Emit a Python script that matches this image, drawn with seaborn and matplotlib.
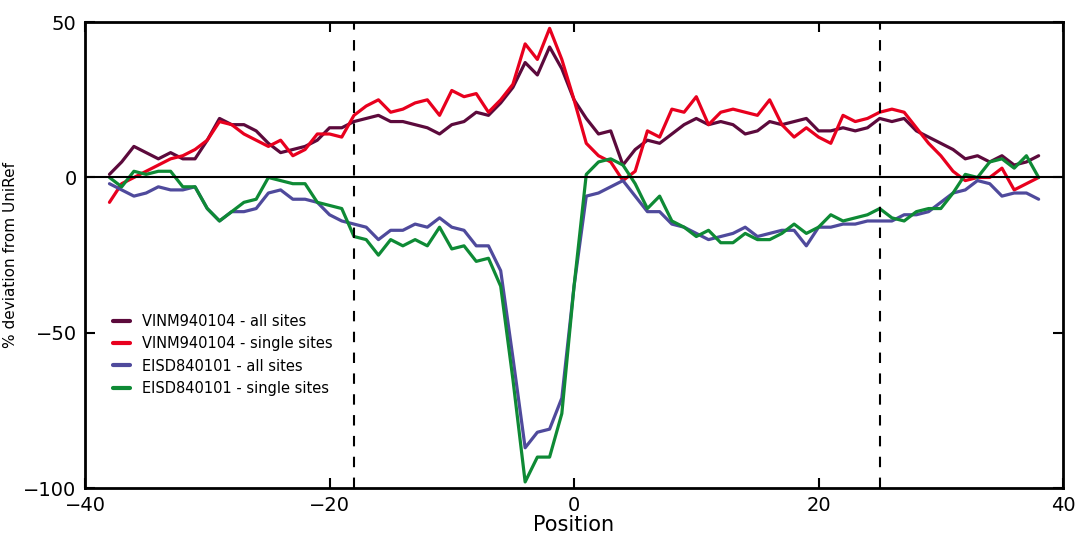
import numpy as np
import pandas as pd
import matplotlib
matplotlib.use("Agg")
import matplotlib.pyplot as plt
import seaborn as sns

positions = list(range(-38, 39))

vinm_all = [1, 5, 10, 8, 6, 8, 6, 6, 12, 19, 17, 17, 15, 11, 8, 9, 10, 12, 16, 16,
            18, 19, 20, 18, 18, 17, 16, 14, 17, 18, 21, 20, 24, 29, 37, 33, 42, 35,
            25, 19, 14, 15, 4, 9, 12, 11, 14, 17, 19, 17, 18, 17, 14, 15, 18, 17,
            18, 19, 15, 15, 16, 15, 16, 19, 18, 19, 15, 13, 11, 9, 6, 7, 5, 7, 4, 5, 7]
vinm_single = [-8, -2, 0, 2, 4, 6, 7, 9, 12, 18, 17, 14, 12, 10, 12, 7, 9, 14, 14, 13,
               20, 23, 25, 21, 22, 24, 25, 20, 28, 26, 27, 21, 25, 30, 43, 38, 48, 38,
               25, 11, 7, 5, -1, 2, 15, 13, 22, 21, 26, 17, 21, 22, 21, 20, 25, 17,
               13, 16, 13, 11, 20, 18, 19, 21, 22, 21, 16, 11, 7, 2, -1, 0, 0, 3, -4, -2, 0]
eisd_all = [-2, -4, -6, -5, -3, -4, -4, -3, -10, -14, -11, -11, -10, -5, -4, -7, -7, -8,
            -12, -14, -15, -16, -20, -17, -17, -15, -16, -13, -16, -17, -22, -22, -30,
            -58, -87, -82, -81, -71, -35, -6, -5, -3, -1, -6, -11, -11, -15, -16, -18,
            -20, -19, -18, -16, -19, -18, -17, -17, -22, -16, -16, -15, -15, -14, -14,
            -14, -12, -12, -11, -8, -5, -4, -1, -2, -6, -5, -5, -7]
eisd_single = [0, -3, 2, 1, 2, 2, -3, -3, -10, -14, -11, -8, -7, 0, -1, -2, -2, -8, -9,
               -10, -19, -20, -25, -20, -22, -20, -22, -16, -23, -22, -27, -26, -35, -65,
               -98, -90, -90, -76, -35, 1, 5, 6, 4, -2, -10, -6, -14, -16, -19, -17, -21,
               -21, -18, -20, -20, -18, -15, -18, -16, -12, -14, -13, -12, -10, -13, -14,
               -11, -10, -10, -5, 1, 0, 5, 6, 3, 7, 0]

labels = ["VINM940104 - all sites", "VINM940104 - single sites",
          "EISD840101 - all sites", "EISD840101 - single sites"]
colors = ["#5c0a3c", "#e8001e", "#4f4a9c", "#0e8a35"]

df = pd.concat([
    pd.DataFrame({"Position": positions, "value": vals, "series": lab})
    for vals, lab in zip([vinm_all, vinm_single, eisd_all, eisd_single], labels)
])

sns.set_style("white")
plt.rcParams['font.family'] = ['DejaVu Sans']
plt.rcParams['text.color'] = 'black'
plt.rcParams['axes.labelcolor'] = 'black'
plt.rcParams['xtick.color'] = 'black'
plt.rcParams['ytick.color'] = 'black'

fig = plt.figure(figsize=(10.76, 5.4), dpi=100)
ax = fig.add_axes([0.079, 0.096, 0.909, 0.863])

sns.lineplot(data=df, x="Position", y="value", hue="series", hue_order=labels,
             palette=colors, linewidth=2.3, ax=ax)

ax.axhline(0, color="black", linewidth=1.5)
for xv in (-18, 25):
    ax.axvline(xv, color="black", linestyle=(0, (5, 5)), linewidth=1.5)

ax.set_xlim(-40, 40)
ax.set_ylim(-100, 50)
ax.set_xticks([-40, -20, 0, 20, 40])
ax.set_yticks([-100, -50, 0, 50])
ax.tick_params(direction="in", length=7, width=1.5, labelsize=14,
               top=True, right=True, bottom=True, left=True, pad=6)
for s in ax.spines.values():
    s.set_linewidth(2)
    s.set_color("black")
ax.set_xlabel("Position", fontsize=15, labelpad=0)
ax.set_ylabel("% deviation from UniRef", fontsize=11)

leg = ax.legend(loc="lower left", bbox_to_anchor=(0.015, 0.17), frameon=False,
                fontsize=10.5, handlelength=1.2, labelspacing=0.5)
for line in leg.get_lines():
    line.set_linewidth(3)

fig.savefig("out.png", dpi=100)
